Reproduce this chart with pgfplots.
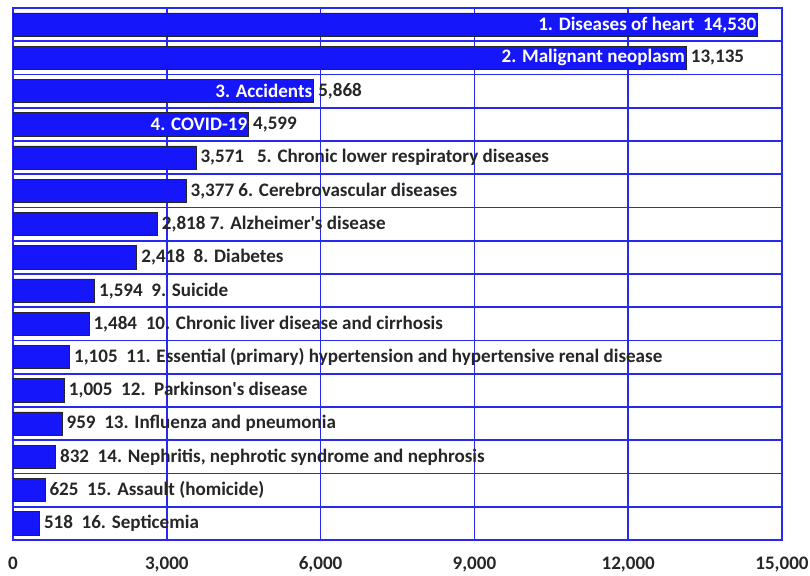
\documentclass[border=0pt]{standalone}
\usepackage{fontspec}
\setmainfont{Carlito}
\usepackage{pgfplots}
\usepackage{pgfplotstable}
\pgfplotsset{compat=1.18}
\definecolor{barblue}{RGB}{22,22,250}
\definecolor{gridblue}{RGB}{40,40,245}

\pgfplotstableread[col sep=semicolon]{
rank;value;in;out
1;14530;1. Diseases of heart~~14,530;{}
2;13135;2. Malignant neoplasm;13,135
3;5868;3. Accidents;5,868
4;4599;4. COVID-19;4,599
5;3571;{};3,571~~~5. Chronic lower respiratory diseases
6;3377;{};3,377 6. Cerebrovascular diseases
7;2818;{};2,818 7. Alzheimer\textquotesingle s disease
8;2418;{};2,418~~8. Diabetes
9;1594;{};1,594~~9. Suicide
10;1484;{};1,484~~10. Chronic liver disease and cirrhosis
11;1105;{};1,105~~11. Essential (primary) hypertension and hypertensive renal disease
12;1005;{};1,005~~12.~~Parkinson\textquotesingle s disease
13;959;{};959~~13. Influenza and pneumonia
14;832;{};832~~14. Nephritis, nephrotic syndrome and nephrosis
15;625;{};625~~15. Assault (homicide)
16;518;{};518~~16. Septicemia
}\data

\begin{document}
\begin{tikzpicture}[font=\bfseries\fontsize{14.3}{17}\selectfont]
\begin{axis}[
  scale only axis, width=576.75pt, height=399pt,
  xbar, bar shift=0pt, bar width=0.7,
  y dir=reverse, ymin=0.5, ymax=16.5,
  xmin=0, xmax=15000,
  xtick={0,3000,6000,9000,12000,15000},
  ytick={0.5,1.5,...,16.5}, yticklabels={},
  xmajorgrids, ymajorgrids,
  major tick length=0pt,
  grid style={gridblue, line width=1.2pt},
  axis line style={gridblue, line width=1.2pt},
  scaled x ticks=false,
  /pgf/number format/assume math mode=true,
  /pgf/number format/1000 sep={,},
  xticklabel style={font=\bfseries\fontsize{14.3}{17}\selectfont, text=black!85, yshift=-9pt},
  nodes near coords, point meta=explicit symbolic,
  clip=false,
]
\addplot[fill=barblue, draw=black!85, line width=0.7pt,
  nodes near coords style={anchor=west, text=black!85, inner sep=3pt}]
  table[x=value, y=rank, meta=out] {\data};
\addplot[draw=none, fill=none,
  nodes near coords style={anchor=east, text=white, inner sep=1pt}]
  table[x=value, y=rank, meta=in] {\data};
\coordinate (BL) at (axis cs:0,16.5);
\coordinate (TR) at (axis cs:15000,0.5);
\end{axis}
\pgfresetboundingbox
\path[use as bounding box] ([shift={(-9.75pt,-26.25pt)}]BL) rectangle ([shift={(21pt,6pt)}]TR);
\end{tikzpicture}
\end{document}
